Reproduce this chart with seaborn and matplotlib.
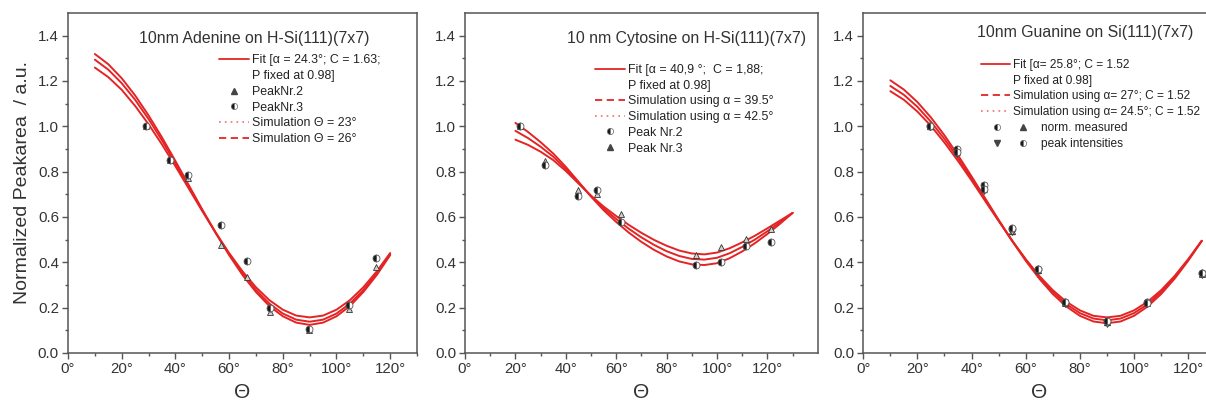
import matplotlib
matplotlib.use('Agg')
import matplotlib.pyplot as plt
import seaborn as sns
from matplotlib.lines import Line2D
from matplotlib.legend_handler import HandlerTuple
from matplotlib.ticker import FixedLocator, FuncFormatter

# ---- Adenine panel ----
ade_theta = [10, 15, 20, 25, 30, 35, 40, 45, 50, 55, 60, 65, 70, 75, 80, 85, 90,
             95, 100, 105, 110, 115, 120]
ade_fit = [1.294, 1.250, 1.190, 1.117, 1.032, 0.938, 0.837, 0.734, 0.630, 0.530, 0.436,
           0.351, 0.278, 0.218, 0.174, 0.147, 0.138, 0.147, 0.174, 0.218, 0.278, 0.351, 0.436]
ade_sim23 = [1.319, 1.274, 1.212, 1.136, 1.048, 0.951, 0.847, 0.740, 0.633, 0.530, 0.432,
             0.344, 0.269, 0.207, 0.162, 0.134, 0.124, 0.134, 0.162, 0.207, 0.269, 0.344, 0.432]
ade_sim26 = [1.259, 1.217, 1.161, 1.090, 1.009, 0.920, 0.824, 0.725, 0.626, 0.531, 0.441,
             0.360, 0.290, 0.233, 0.191, 0.165, 0.157, 0.165, 0.191, 0.233, 0.290, 0.360, 0.441]
ade_peak_theta = [29, 38, 44.6, 57, 66.5, 75.2, 89.7, 104.5, 114.8]
ade_peak2 = [1.0, 0.85, 0.77, 0.476, 0.334, 0.18, 0.10, 0.195, 0.38]
ade_peak3 = [1.0, 0.85, 0.784, 0.564, 0.405, 0.197, 0.105, 0.21, 0.42]

# ---- Cytosine panel ----
cyt_theta = [20, 25, 30, 35, 40, 45, 50, 55, 60, 65, 70, 75, 80, 85, 90, 95, 100,
             105, 110, 115, 120, 125, 130]
cyt_fit = [0.980, 0.948, 0.910, 0.866, 0.812, 0.752, 0.692, 0.638, 0.591, 0.548, 0.510,
           0.477, 0.449, 0.428, 0.415, 0.412, 0.420, 0.440, 0.468, 0.500, 0.537, 0.577, 0.618]
cyt_sim395 = [1.015, 0.975, 0.930, 0.880, 0.821, 0.756, 0.690, 0.630, 0.578, 0.531, 0.490,
              0.455, 0.426, 0.404, 0.391, 0.388, 0.396, 0.418, 0.448, 0.484, 0.525, 0.570, 0.618]
cyt_sim425 = [0.941, 0.918, 0.888, 0.851, 0.803, 0.748, 0.694, 0.646, 0.604, 0.565, 0.530,
              0.499, 0.473, 0.452, 0.439, 0.435, 0.443, 0.462, 0.488, 0.517, 0.550, 0.584, 0.618]
cyt_peak_theta = [22, 31.8, 45, 52.2, 61.8, 91.7, 101.5, 111.4, 121.6]
cyt_peak2 = [1.0, 0.831, 0.692, 0.721, 0.578, 0.388, 0.402, 0.471, 0.490]
cyt_peak3 = [1.0, 0.847, 0.718, 0.703, 0.615, 0.432, 0.466, 0.505, 0.549]

# ---- Guanine panel ----
gua_theta = [10, 15, 20, 25, 30, 35, 40, 45, 50, 55, 60, 65, 70, 75, 80, 85, 90,
             95, 100, 105, 110, 115, 120, 125]
gua_fit = [1.178, 1.139, 1.086, 1.020, 0.944, 0.860, 0.770, 0.677, 0.585, 0.495, 0.411,
           0.334, 0.269, 0.215, 0.176, 0.152, 0.144, 0.152, 0.176, 0.215, 0.269, 0.334,
           0.411, 0.495]
gua_sim27 = [1.155, 1.117, 1.065, 1.002, 0.928, 0.847, 0.761, 0.671, 0.582, 0.495, 0.414,
             0.340, 0.277, 0.226, 0.188, 0.164, 0.157, 0.164, 0.188, 0.226, 0.277, 0.340,
             0.414, 0.495]
gua_sim245 = [1.203, 1.162, 1.107, 1.039, 0.960, 0.872, 0.779, 0.683, 0.587, 0.494, 0.407,
              0.328, 0.260, 0.205, 0.164, 0.139, 0.131, 0.139, 0.164, 0.205, 0.260, 0.328,
              0.407, 0.494]
gua_peak_theta = [24.6, 34.8, 44.7, 54.8, 64.6, 74.5, 89.9, 104.9, 125]
gua_meas_a = [1.0, 0.899, 0.74, 0.545, 0.369, 0.226, 0.142, 0.226, 0.351]
gua_meas_b = [1.0, 0.89, 0.73, 0.54, 0.365, 0.222, 0.135, 0.22, 0.35]
gua_int_a = [0.995, 0.877, 0.715, 0.535, 0.36, 0.218, 0.128, 0.215, 0.345]
gua_int_b = [1.0, 0.885, 0.725, 0.55, 0.37, 0.225, 0.14, 0.222, 0.355]
gua_err = [0.01, 0.015, 0.02, 0.015, 0.01, 0.01, 0.01, 0.01, 0.01]

x_major = [0, 20, 40, 60, 80, 100, 120]
x_minor = [10, 30, 50, 70, 90, 110, 130]
y_major = [0.0, 0.2, 0.4, 0.6, 0.8, 1.0, 1.2, 1.4]
y_minor = [0.1, 0.3, 0.5, 0.7, 0.9, 1.1, 1.3]

RED = '#e42424'
AXC = '#555555'
TXT = '#333333'

sns.set_style('white')
plt.rcParams['font.family'] = ['Liberation Sans', 'DejaVu Sans']


def half_circles(ax, x, y):
    ax.plot(x, y, ls='none', marker='o', fillstyle='left', ms=5, mfc='#1a1a1a',
            markerfacecoloralt='white', mec='#555555', mew=0.6, zorder=4)


def triangles(ax, x, y, marker='^'):
    ax.plot(x, y, ls='none', marker=marker, ms=4.5, mfc='#d0d0d0', mec='#333333',
            mew=0.6, zorder=4)


def curves(ax, theta, series):
    for vals in series:
        sns.lineplot(x=theta, y=vals, ax=ax, color=RED, lw=1.4, sort=False,
                     estimator=None, zorder=3)


def style_axes(ax, xmax):
    ax.set_xlim(0, xmax)
    ax.set_ylim(0, 1.5)
    ax.xaxis.set_major_locator(FixedLocator(x_major))
    ax.xaxis.set_minor_locator(FixedLocator(x_minor))
    ax.yaxis.set_major_locator(FixedLocator(y_major))
    ax.yaxis.set_minor_locator(FixedLocator(y_minor))
    ax.xaxis.set_major_formatter(FuncFormatter(lambda v, p: '{:.0f}°'.format(v)))
    ax.yaxis.set_major_formatter(FuncFormatter(lambda v, p: '{:.1f}'.format(v)))
    ax.tick_params(which='both', direction='out', color=AXC, width=1,
                   bottom=True, left=True, top=False, right=False)
    ax.tick_params(which='major', length=4.5, labelsize=10.8, labelcolor=TXT, pad=2)
    ax.tick_params(which='minor', length=2.5)
    for s in ax.spines.values():
        s.set_color(AXC)
        s.set_linewidth(1.1)
        s.set_visible(True)
    ax.set_xlabel('Θ', fontsize=15, color=TXT, labelpad=5)
    ax.set_ylabel('')


fig = plt.figure(figsize=(12.06, 4.03), dpi=100)
ax1 = fig.add_axes([0.0564, 0.1241, 0.2894, 0.8437])
ax2 = fig.add_axes([0.3856, 0.1241, 0.2925, 0.8437])
ax3 = fig.add_axes([0.7158, 0.1241, 0.2919, 0.8437])

blank = Line2D([], [], ls='none')
leg_kw = dict(loc='upper left', frameon=False, fontsize=8.9, borderpad=0,
              borderaxespad=0, handlelength=2.4, handletextpad=0.25,
              labelspacing=0.3, labelcolor='#222222')

# Adenine
curves(ax1, ade_theta, [ade_fit, ade_sim23, ade_sim26])
triangles(ax1, ade_peak_theta, ade_peak2)
half_circles(ax1, ade_peak_theta, ade_peak3)
style_axes(ax1, 130)
ax1.set_ylabel('Normalized Peakarea  / a.u.', fontsize=14, color=TXT, labelpad=5)
ax1.text(0.534, 0.924, '10nm Adenine on H-Si(111)(7x7)', transform=ax1.transAxes,
         ha='center', va='center', fontsize=11.4, color=TXT)
h_fit = Line2D([], [], color=RED, lw=1.3)
h_tri = Line2D([], [], ls='none', marker='^', ms=4, mfc='#444444', mec='#444444')
h_circ = Line2D([], [], ls='none', marker='o', fillstyle='left', ms=4.5, mfc='#1a1a1a',
                markerfacecoloralt='white', mec='#666666', mew=0.5)
h_dot = Line2D([], [], color='#f07070', lw=1.2, ls=(0, (1, 2.5)))
h_dash = Line2D([], [], color=RED, lw=1.3, ls=(0, (4, 2.5)))
ax1.legend([h_fit, blank, h_tri, h_circ, h_dot, h_dash],
           ['Fit [α = 24.3°; C = 1.63;', 'P fixed at 0.98]', 'PeakNr.2', 'PeakNr.3',
            'Simulation Θ = 23°', 'Simulation Θ = 26°'],
           bbox_to_anchor=(0.433, 0.878), **leg_kw)

# Cytosine
curves(ax2, cyt_theta, [cyt_fit, cyt_sim395, cyt_sim425])
triangles(ax2, cyt_peak_theta, cyt_peak3)
half_circles(ax2, cyt_peak_theta, cyt_peak2)
style_axes(ax2, 140)
ax2.text(0.627, 0.926, '10 nm Cytosine on H-Si(111)(7x7)', transform=ax2.transAxes,
         ha='center', va='center', fontsize=11.4, color=TXT)
ax2.legend([h_fit, blank, h_dash, h_dot, h_circ, h_tri],
           ['Fit [α = 40,9 °;  C = 1,88;', 'P fixed at 0.98]',
            'Simulation using α = 39.5°', 'Simulation using α = 42.5°',
            'Peak Nr.2', 'Peak Nr.3'],
           bbox_to_anchor=(0.369, 0.850), **leg_kw)

# Guanine
curves(ax3, gua_theta, [gua_fit, gua_sim27, gua_sim245])
ax3.errorbar(gua_peak_theta, gua_meas_b, yerr=gua_err, ls='none', ecolor='#444444',
             elinewidth=0.8, capsize=2, zorder=3)
half_circles(ax3, gua_peak_theta, gua_meas_a)
triangles(ax3, gua_peak_theta, gua_meas_b, '^')
triangles(ax3, gua_peak_theta, gua_int_a, 'v')
half_circles(ax3, gua_peak_theta, gua_int_b)
style_axes(ax3, 130)
ax3.text(0.630, 0.944, '10nm Guanine on Si(111)(7x7)', transform=ax3.transAxes,
         ha='center', va='center', fontsize=11.4, color=TXT)
kw3 = dict(leg_kw)
kw3.update(fontsize=8.6)
leg3 = ax3.legend([h_fit, blank, h_dash, h_dot],
                  ['Fit [α= 25.8°; C = 1.52', 'P fixed at 0.98]',
                   'Simulation using α= 27°; C = 1.52',
                   'Simulation using α= 24.5°; C = 1.52'],
                  bbox_to_anchor=(0.335, 0.864), **kw3)
ax3.add_artist(leg3)
h_vtri = Line2D([], [], ls='none', marker='v', ms=4, mfc='#444444', mec='#444444')
kw2 = dict(kw3)
kw2.update(handlelength=3.3, handletextpad=1.0)
ax3.legend([(h_circ, h_tri), (h_vtri, h_circ)], ['norm. measured', 'peak intensities'],
           handler_map={tuple: HandlerTuple(ndivide=None, pad=1.0)},
           bbox_to_anchor=(0.360, 0.678), **kw2)

fig.savefig('out.png', dpi=100)
